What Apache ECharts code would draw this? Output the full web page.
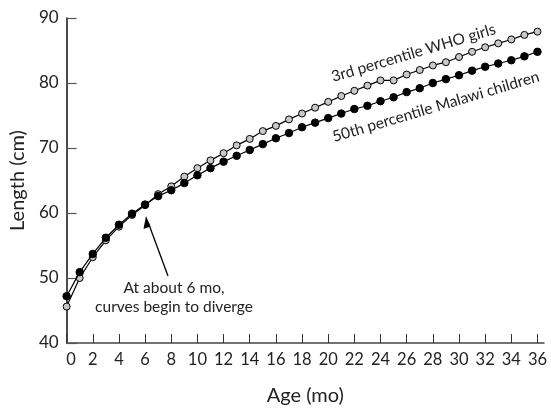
<!DOCTYPE html>
<html><head><meta charset="utf-8">
<script src="https://cdn.jsdelivr.net/npm/echarts@6/dist/echarts.min.js"></script>
<style>html,body{margin:0;padding:0;background:#fff}#c{width:551px;height:411px}</style>
</head><body><div id="c"></div>
<script>
var ages = [0,1,2,3,4,5,6,7,8,9,10,11,12,13,14,15,16,17,18,19,20,21,22,23,24,25,26,27,28,29,30,31,32,33,34,35,36];
var whoGirlsP3 = [45.6,50.0,53.2,55.8,57.9,59.7,61.2,62.9,64.1,65.6,66.9,68.1,69.2,70.4,71.4,72.6,73.4,74.4,75.3,76.2,77.1,78.0,78.8,79.6,80.4,80.4,81.3,82.0,82.7,83.2,84.0,84.8,85.5,86.1,86.7,87.4,87.9];
var malawiP50 = [47.2,50.9,53.7,56.2,58.2,59.9,61.3,62.6,63.5,64.6,65.8,66.9,67.9,68.8,69.7,70.6,71.5,72.3,73.2,73.9,74.6,75.3,76.0,76.5,77.2,77.8,78.6,79.2,80.0,80.6,81.2,81.9,82.5,83.0,83.5,84.1,84.8];
var xTicks = [0,2,4,6,8,10,12,14,16,18,20,22,24,26,28,30,32,34,36];
var yTicks = [40,50,60,70,80,90];
var labelWHO = '3rd percentile WHO girls';
var labelMalawi = '50th percentile Malawi children';
var noteText = 'At about 6 mo,\ncurves begin to diverge';

var FONT = 'Lato';
var chart = echarts.init(document.getElementById('c'), null, {renderer:'canvas'});
function pairs(ys){ return ages.map(function(a,i){ return [a, ys[i]]; }); }
var rot = 16.5 * Math.PI / 180;
chart.setOption({
  animation:false,
  backgroundColor:'#fff',
  grid:{left:62, right:7, top:18, bottom:58},
  xAxis:{
    type:'value', min:0, max:36.5,
    name:'Age (mo)', nameLocation:'middle', nameGap:43,
    nameTextStyle:{fontFamily:FONT, fontSize:20, color:'#222'},
    axisLine:{show:true, lineStyle:{color:'#444', width:1.5}},
    axisTick:{show:true, inside:true, length:9, customValues:xTicks, lineStyle:{color:'#333', width:1}},
    axisLabel:{customValues:xTicks, margin:8, fontFamily:FONT, fontSize:16.5, color:'#222',
      formatter:function(v){ return v===0 ? '{z|0}' : String(v); },
      rich:{z:{padding:[0,0,0,9], fontFamily:FONT, fontSize:16.5, color:'#222'}}},
    splitLine:{show:false}
  },
  yAxis:{
    type:'value', min:40, max:90, interval:10,
    name:'Length (cm)', nameLocation:'middle', nameGap:38,
    nameTextStyle:{fontFamily:FONT, fontSize:20, color:'#222'},
    axisLine:{show:true, lineStyle:{color:'#111', width:1.5}},
    axisTick:{show:true, inside:true, length:10, lineStyle:{color:'#555', width:1.2}},
    axisLabel:{margin:8, fontFamily:FONT, fontSize:17, color:'#222'},
    splitLine:{show:false}
  },
  series:[
    {type:'line', name:labelWHO, data:pairs(whoGirlsP3), symbol:'circle', symbolSize:7,
     itemStyle:{color:'#c8c8c8', borderColor:'#000', borderWidth:1},
     lineStyle:{color:'#000', width:1.2}, z:2},
    {type:'line', name:labelMalawi, data:pairs(malawiP50), symbol:'circle', symbolSize:7.5,
     itemStyle:{color:'#000', borderColor:'#000', borderWidth:1},
     lineStyle:{color:'#000', width:1.2}, z:3}
  ],
  graphic:[
    {type:'text', x:334, y:85, rotation:rot,
     style:{text:labelWHO, fontFamily:FONT, fontSize:15.5, fill:'#222', align:'left', verticalAlign:'bottom'}},
    {type:'text', x:335, y:145, rotation:rot,
     style:{text:labelMalawi, fontFamily:FONT, fontSize:15.5, fill:'#222', align:'left', verticalAlign:'bottom'}},
    {type:'text', x:174, y:278,
     style:{text:noteText, fontFamily:FONT, fontSize:15.5, lineHeight:19, fill:'#222', align:'center', verticalAlign:'top'}},
    {type:'line', shape:{x1:168, y1:276, x2:148, y2:222}, style:{stroke:'#000', lineWidth:1.3}},
    {type:'polygon', shape:{points:[[146,216],[143.5,229],[150.5,226.5]]}, style:{fill:'#000'}}
  ]
});
</script></body></html>
